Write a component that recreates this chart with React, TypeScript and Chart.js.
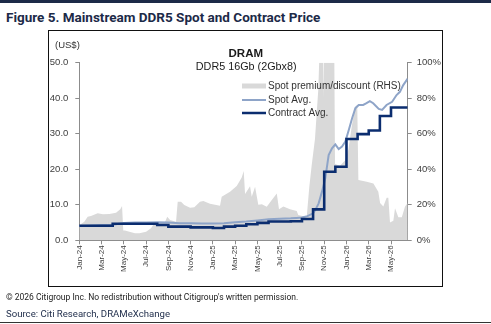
import { useEffect, useRef } from "react";
import { Chart, registerables } from "chart.js";

Chart.register(...registerables);

// x values are months elapsed since Jan-24
const xTickLabels = [
  "Jan-24", "Mar-24", "May-24", "Jul-24", "Sep-24", "Nov-24", "Jan-25", "Mar-25",
  "May-25", "Jul-25", "Sep-25", "Nov-25", "Jan-26", "Mar-26", "May-26",
];

// Monthly contract average (US$), last entry carries June-26 to the edge
const contractMonths = [
  0, 1, 2, 3, 4, 5, 6, 7, 8, 9, 10, 11, 12, 13, 14, 15, 16, 17, 18, 19, 20,
  21, 22, 23, 24, 25, 26, 27, 28, 29, 29.5,
];
const contractAvg = [
  3.85, 4.1, 4.1, 4.1, 4.65, 4.65, 4.65, 4.65, 4.3, 3.85, 3.85, 3.65, 3.65, 3.45,
  3.85, 4.1, 4.5, 4.9, 5.3, 5.3, 5.35, 6.0, 8.7, 19.3, 20.7, 28.5, 29.9, 30.9,
  35.0, 37.4, 37.4,
];

// Spot average (US$)
const spotMonths = [
  0, 1, 2, 3, 4, 5, 6, 7, 8, 9, 10, 11, 12, 13, 14, 15, 16, 17, 18, 19, 19.5,
  20, 20.5, 21, 21.2, 21.5, 21.8, 22.1, 22.4, 22.7, 23.0, 23.3, 23.6, 23.9, 24.2,
  24.5, 24.8, 25.1, 25.5, 25.8, 26.1, 26.4, 26.9, 27.2, 27.6, 28.1, 28.5, 28.8,
  29.1, 29.5,
];
const spotAvg = [
  4.0, 4.2, 4.3, 4.4, 4.9, 5.0, 5.0, 5.1, 5.0, 4.8, 4.8, 4.7, 4.7, 4.8, 5.1, 5.3,
  5.6, 5.9, 6.1, 6.2, 6.3, 6.4, 6.8, 7.6, 8.5, 10.4, 13.7, 17.5, 24.0, 25.9, 27.0,
  25.7, 26.4, 27.8, 31.0, 34.3, 37.2, 38.1, 38.1, 38.6, 39.2, 38.6, 37.0, 36.7,
  38.1, 39.0, 40.9, 41.8, 43.7, 45.5,
];

// Spot premium / discount over contract (%)
const premiumMonths = [
  0, 0.45, 0.75, 1.05, 1.65, 2.13, 2.7, 3.3, 3.68, 3.84, 3.95, 4.1, 4.5, 5.0, 5.4,
  6.0, 6.44, 6.74, 7.19, 7.7, 7.9, 8.15, 8.69, 8.84, 9.14, 9.43, 9.95, 10.33,
  10.84, 11.14, 11.74, 12.64, 12.79, 13.54, 14.14, 14.59, 14.77, 14.89, 15.34,
  15.49, 15.79, 16.08, 16.4, 16.84, 17.29, 17.74, 17.94, 18.33, 18.93, 19.53,
  19.67, 20.13, 20.43, 20.66, 20.87, 21.17, 21.47, 21.62, 21.86, 21.92, 22.0,
  22.88, 22.97, 23.42, 23.87, 24.17, 24.47, 24.77, 24.97, 25.07, 25.82, 26.42,
  26.86, 27.02, 27.31, 27.61, 27.76, 27.91, 28.21, 28.36, 28.66, 28.97, 29.26,
  29.5,
];
const premiumPct = [
  8.5, 10.5, 13.3, 13.7, 15.2, 14.6, 14.8, 15.5, 17.5, 19.3, 5.5, 5.5, 4.8, 3.9,
  3.9, 4.8, 6.8, 9.6, 9.7, 10.3, 13.3, 11.4, 10.5, 21.7, 21.7, 19.9, 18.3, 18.6,
  21.7, 22.1, 20.6, 19.5, 24.5, 27.4, 30.6, 35.3, 39.0, 26.0, 30.5, 24.5, 30.2,
  20.0, 20.3, 18.9, 22.7, 26.3, 17.5, 19.0, 17.5, 16.5, 14.2, 13.5, 13.3, 30.0,
  42.0, 57.0, 85.0, 115.0, 120.0, 80.0, 130.0, 130.0, 43.0, 42.0, 45.0, 51.0,
  64.0, 75.0, 76.0, 34.0, 33.0, 32.0, 27.4, 21.0, 19.0, 24.0, 24.0, 10.0, 11.0,
  18.0, 13.0, 13.0, 19.0, 21.0,
];

const NAVY = "#0b2d6f";
const SPOT = "#8ea4c8";
const GRAY = "#d9d9d9";
const AXIS = "#8c8c8c";
const TEXT = "#404040";
const SANS = "'Liberation Sans', Arial, sans-serif";

const toPoints = (xs: number[], ys: number[]) => xs.map((x, i) => ({ x, y: ys[i] }));

const overlayPlugin = {
  id: "overlayText",
  afterDatasetsDraw(chart: any) {
    const { ctx } = chart;
    ctx.save();
    ctx.textBaseline = "middle";
    ctx.fillStyle = "#333333";

    ctx.font = `9.5px ${SANS}`;
    ctx.textAlign = "left";
    ctx.fillText("(US$)", 55, 45);

    ctx.textAlign = "center";
    ctx.fillStyle = "#1a1a1a";
    ctx.font = `bold 11.5px ${SANS}`;
    ctx.fillText("DRAM", 245.8, 54);
    ctx.font = `10.8px ${SANS}`;
    ctx.fillText("DDR5 16Gb (2Gbx8)", 246.2, 67.5);

    // legend, listed as premium, spot, contract
    const order = [2, 1, 0];
    const rowY = [86, 100, 113];
    const widths = [5, 2, 2.5];
    ctx.textAlign = "left";
    ctx.font = `10px ${SANS}`;
    order.forEach((dsIndex, i) => {
      const ds = chart.data.datasets[dsIndex];
      ctx.beginPath();
      ctx.strokeStyle = ds.fill ? ds.backgroundColor : ds.borderColor;
      ctx.lineWidth = widths[i];
      ctx.moveTo(242, rowY[i]);
      ctx.lineTo(266, rowY[i]);
      ctx.stroke();
      ctx.fillStyle = "#333333";
      ctx.fillText(ds.label, 268, rowY[i]);
    });
    ctx.restore();
  },
};

export default function App() {
  const ref = useRef<HTMLCanvasElement>(null);

  useEffect(() => {
    document.body.style.margin = "0";
    const canvas = ref.current;
    if (!canvas) return;

    const tickFont = { family: SANS, size: 9.5 };
    const grid = { drawOnChartArea: false, drawTicks: true, tickLength: 4, color: AXIS };

    const chart = new Chart(canvas, {
      type: "line",
      data: {
        datasets: [
          {
            label: "Contract Avg.",
            data: toPoints(contractMonths, contractAvg),
            borderColor: NAVY,
            backgroundColor: NAVY,
            borderWidth: 2.6,
            stepped: "after",
            pointRadius: 0,
            yAxisID: "y",
            order: 0,
          },
          {
            label: "Spot Avg.",
            data: toPoints(spotMonths, spotAvg),
            borderColor: SPOT,
            backgroundColor: SPOT,
            borderWidth: 2,
            pointRadius: 0,
            yAxisID: "y",
            order: 1,
          },
          {
            label: "Spot premium/discount (RHS)",
            data: toPoints(premiumMonths, premiumPct),
            borderColor: GRAY,
            backgroundColor: GRAY,
            borderWidth: 0,
            pointRadius: 0,
            fill: "origin",
            yAxisID: "y2",
            order: 2,
          },
        ],
      },
      options: {
        animation: false,
        responsive: false,
        maintainAspectRatio: false,
        layout: { padding: { left: 0, right: 0, top: 62.7, bottom: 34 } },
        plugins: { legend: { display: false }, tooltip: { enabled: false } },
        scales: {
          x: {
            type: "linear",
            min: 0,
            max: 29.5,
            grid,
            border: { display: true, color: AXIS },
            ticks: {
              stepSize: 2,
              autoSkip: false,
              includeBounds: false,
              minRotation: 90,
              maxRotation: 90,
              padding: 1,
              color: TEXT,
              font: { family: SANS, size: 8 },
              callback: (v: any) => xTickLabels[Math.round(Number(v) / 2)] ?? "",
            },
            afterFit: (s: any) => {
              s.height = 49.7;
            },
          },
          y: {
            position: "left",
            min: 0,
            max: 50,
            grid,
            border: { display: true, color: AXIS },
            ticks: {
              stepSize: 10,
              padding: 7,
              color: TEXT,
              font: tickFont,
              callback: (v: any) => Number(v).toFixed(1),
            },
            afterFit: (s: any) => {
              s.width = 79.3;
            },
          },
          y2: {
            position: "right",
            min: 0,
            max: 100,
            grid,
            border: { display: true, color: AXIS },
            ticks: {
              stepSize: 20,
              padding: 5,
              color: TEXT,
              font: tickFont,
              callback: (v: any) => `${v}%`,
            },
            afterFit: (s: any) => {
              s.width = 83.3;
            },
          },
        },
      },
      plugins: [overlayPlugin],
    } as any);

    return () => chart.destroy();
  }, []);

  return (
    <div style={{ position: "relative", width: 491, height: 324, background: "#fff", overflow: "hidden" }}>
      <div style={{ position: "absolute", left: 0, top: 0, width: 491, height: 3, background: "#1c2a48" }} />
      <div
        style={{
          position: "absolute",
          left: 6,
          top: 9,
          fontFamily: "Roboto, sans-serif",
          fontWeight: 700,
          fontSize: 13.5,
          lineHeight: "16px",
          color: "#1c2a48",
          whiteSpace: "nowrap",
        }}
      >
        Figure 5. Mainstream DDR5 Spot and Contract Price
      </div>
      <div
        style={{
          position: "absolute",
          left: 48,
          top: 30,
          width: 395,
          height: 257,
          border: "1px solid #111",
          boxSizing: "border-box",
        }}
      />
      <canvas ref={ref} width={491} height={324} style={{ position: "absolute", left: 0, top: 0 }} />
      <div
        style={{
          position: "absolute",
          left: 6,
          top: 292,
          fontFamily: "Roboto, sans-serif",
          fontSize: 8.5,
          lineHeight: "10px",
          color: "#222",
          whiteSpace: "nowrap",
        }}
      >
        © 2026 Citigroup Inc. No redistribution without Citigroup's written permission.
      </div>
      <div
        style={{
          position: "absolute",
          left: 6,
          top: 308,
          fontFamily: "Roboto, sans-serif",
          fontSize: 9.6,
          lineHeight: "12px",
          color: "#1c2a48",
          whiteSpace: "nowrap",
        }}
      >
        Source: Citi Research, DRAMeXchange
      </div>
      <div style={{ position: "absolute", left: 0, top: 322, width: 491, height: 1, background: "#333" }} />
    </div>
  );
}
